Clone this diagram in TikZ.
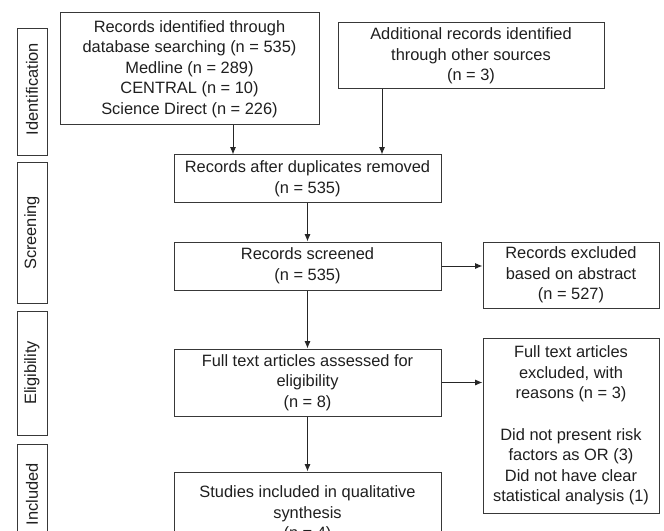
\documentclass[tikz,border=0pt]{standalone}
\usepackage{fontspec}
\setmainfont{Liberation Sans}
\usetikzlibrary{arrows.meta}
\begin{document}
\begin{tikzpicture}[x=0.75pt,y=-0.75pt,
  every node/.style={font=\fontsize{12.3}{15.4}\selectfont, text=black!88},
  box/.style={draw=black!78, line width=0.75pt, rectangle, inner sep=0pt, align=center},
  side/.style={draw=black!78, line width=0.75pt, rectangle, inner sep=0pt, minimum width=30*0.75pt},
  arr/.style={draw=black!85, line width=0.75pt, -{Latex[length=5.5pt,width=4.5pt]}}]
\useasboundingbox (0,0) rectangle (664,531);
\clip (0,0) rectangle (664,531);
\fill[white] (0,0) rectangle (664,531);
% side labels
\node[side, minimum height=127*0.75pt] (sid) at (32,92.5) {};
\node[rotate=90] (tid) at (32,89) {Identification};
\node[side, minimum height=140*0.75pt] (ssc) at (32,233) {};
\node[rotate=90] (tsc) at (32,233) {Screening};
\node[side, minimum height=124*0.75pt] (sel) at (32,373) {};
\node[rotate=90] (tel) at (32,373) {Eligibility};
\node[side, minimum height=100*0.75pt] (sin) at (32,494) {};
\node[rotate=90] (tin) at (32,494) {Included};
% boxes
\node[box, minimum width=259*0.75pt, minimum height=112*0.75pt] (b1) at (189.5,69)
  {Records identified through\\database searching (n = 535)\\Medline (n = 289)\\CENTRAL (n = 10)\\Science Direct (n = 226)};
\node[box, minimum width=266*0.75pt, minimum height=66*0.75pt] (b2) at (471,56)
  {Additional records identified\\through other sources\\(n = 3)};
\node[box, minimum width=267*0.75pt, minimum height=48*0.75pt] (dup) at (307.5,179)
  {Records after duplicates removed\\(n = 535)};
\node[box, minimum width=267*0.75pt, minimum height=48*0.75pt] (scr) at (307.5,266)
  {Records screened\\(n = 535)};
\node[box, minimum width=176*0.75pt, minimum height=66*0.75pt] (exc) at (571,275)
  {Records excluded\\based on abstract\\(n = 527)};
\node[box, minimum width=267*0.75pt, minimum height=67*0.75pt] (ft) at (307.5,382.5)
  {Full text articles assessed for\\eligibility\\(n = 8)};
\node[box, minimum width=176*0.75pt, minimum height=175*0.75pt] (ex2) at (571,425.5)
  {Full text articles\\excluded, with\\reasons (n = 3)\\[15.4pt]Did not present risk\\factors as OR (3)\\Did not have clear\\statistical analysis (1)};
\node[box, minimum width=267*0.75pt, minimum height=84*0.75pt] (inc) at (307.5,514)
  {Studies included in qualitative\\synthesis\\(n = 4)};
% arrows
\draw[arr] ([xshift=43.5*0.75pt]b1.south) -- ([xshift=43.5*0.75pt]b1.south |- dup.north);
\draw[arr] ([xshift=-89*0.75pt]b2.south) -- ([xshift=-89*0.75pt]b2.south |- dup.north);
\draw[arr] (dup.south) -- (scr.north);
\draw[arr] (scr.south) -- (ft.north);
\draw[arr] (ft.south) -- (inc.north);
\draw[arr] (scr.east) -- (scr.east -| exc.west);
\draw[arr] (ft.east) -- (ft.east -| ex2.west);
\end{tikzpicture}
\end{document}
